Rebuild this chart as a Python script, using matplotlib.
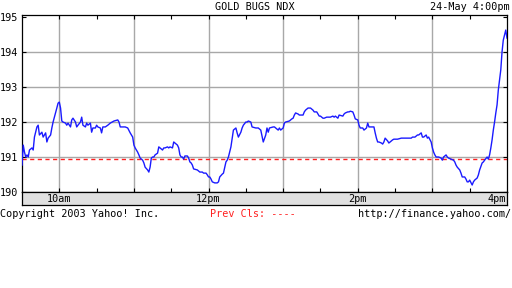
import matplotlib
matplotlib.use("Agg")
import matplotlib.pyplot as plt

# minutes after 9:30 and index value
minutes = [0, 1, 2, 3, 4, 5, 6, 8, 9, 10, 12, 13, 14, 16, 17, 19, 20, 21, 23, 24,
           25, 27, 28, 29, 30, 31, 32, 33, 35, 36, 37, 39, 40, 41, 43, 44, 45, 47, 48, 49,
           51, 52, 53, 55, 56, 57, 59, 60, 61, 63, 64, 65, 67, 69, 71, 74, 77, 78, 79, 81,
           82, 83, 85, 87, 89, 90, 91, 93, 94, 95, 97, 98, 99, 101, 102, 103, 104, 105, 106, 107,
           109, 110, 111, 113, 114, 115, 117, 118, 119, 121, 122, 123, 125, 126, 127, 128, 129, 130, 131, 133,
           134, 135, 136, 137, 138, 141, 143, 145, 146, 148, 149, 150, 151, 152, 153, 155, 157, 158, 159, 161,
           162, 164, 165, 166, 168, 169, 170, 172, 173, 174, 176, 177, 178, 180, 181, 182, 184, 185, 188, 190,
           192, 194, 196, 197, 198, 199, 202, 203, 204, 206, 207, 208, 210, 211, 212, 215, 217, 218, 219, 220,
           222, 223, 224, 226, 227, 228, 230, 231, 232, 234, 235, 237, 238, 239, 240, 242, 243, 245, 246, 248,
           250, 251, 252, 254, 255, 258, 259, 260, 262, 263, 264, 266, 267, 268, 270, 271, 272, 273, 274, 275,
           277, 278, 279, 280, 282, 283, 284, 285, 286, 287, 289, 290, 291, 292, 294, 295, 296, 298, 299, 302,
           305, 306, 308, 311, 313, 314, 316, 318, 319, 321, 322, 323, 325, 326, 327, 329, 330, 331, 332, 333,
           334, 335, 337, 338, 339, 341, 342, 343, 345, 347, 348, 349, 350, 352, 353, 354, 356, 357, 358, 359,
           360, 362, 363, 364, 366, 367, 368, 370, 371, 372, 374, 375, 376, 377, 378, 379, 380, 381, 382, 383,
           384, 385, 386, 387, 388, 389, 390]
prices = [190.77, 191.34, 191.14, 191.00, 191.06, 191.00, 191.20, 191.26, 191.20, 191.57,
          191.86, 191.91, 191.63, 191.71, 191.57, 191.69, 191.43, 191.54, 191.63, 191.83,
          192.00, 192.26, 192.40, 192.54, 192.57, 192.40, 192.03, 192.00, 191.97, 191.91,
          191.97, 191.86, 192.06, 192.11, 192.00, 191.86, 191.91, 192.00, 192.14, 191.91,
          191.86, 191.97, 191.91, 191.97, 191.71, 191.83, 191.83, 191.91, 191.86, 191.83,
          191.69, 191.86, 191.86, 191.91, 191.97, 192.03, 192.06, 192.00, 191.86, 191.86,
          191.86, 191.86, 191.83, 191.69, 191.57, 191.34, 191.26, 191.14, 191.06, 190.97,
          190.91, 190.83, 190.71, 190.63, 190.57, 190.71, 190.97, 191.00, 191.00, 191.06,
          191.11, 191.29, 191.26, 191.20, 191.26, 191.26, 191.29, 191.26, 191.29, 191.26,
          191.43, 191.40, 191.34, 191.26, 191.06, 191.00, 191.00, 190.94, 191.03, 191.03,
          190.97, 190.86, 190.83, 190.77, 190.66, 190.63, 190.57, 190.57, 190.54, 190.54,
          190.49, 190.43, 190.43, 190.37, 190.29, 190.26, 190.26, 190.29, 190.43, 190.51,
          190.54, 190.86, 190.91, 191.00, 191.29, 191.54, 191.77, 191.83, 191.69, 191.57,
          191.71, 191.83, 191.91, 192.00, 192.00, 192.03, 192.00, 191.86, 191.83, 191.83,
          191.77, 191.43, 191.63, 191.83, 191.71, 191.83, 191.86, 191.86, 191.83, 191.77,
          191.83, 191.77, 191.83, 191.97, 192.00, 192.03, 192.09, 192.11, 192.20, 192.26,
          192.23, 192.20, 192.20, 192.20, 192.29, 192.34, 192.40, 192.40, 192.40, 192.34,
          192.29, 192.29, 192.23, 192.17, 192.17, 192.11, 192.11, 192.14, 192.14, 192.14,
          192.17, 192.14, 192.17, 192.11, 192.20, 192.17, 192.23, 192.26, 192.29, 192.29,
          192.31, 192.29, 192.20, 192.09, 192.06, 191.91, 191.83, 191.83, 191.83, 191.77,
          191.83, 191.97, 191.86, 191.86, 191.86, 191.86, 191.69, 191.54, 191.43, 191.43,
          191.40, 191.37, 191.43, 191.54, 191.46, 191.40, 191.43, 191.49, 191.51, 191.51,
          191.54, 191.54, 191.54, 191.54, 191.54, 191.57, 191.57, 191.63, 191.63, 191.69,
          191.57, 191.57, 191.63, 191.54, 191.57, 191.43, 191.26, 191.14, 191.06, 191.00,
          191.00, 191.00, 190.97, 190.91, 191.00, 191.06, 191.00, 190.97, 190.94, 190.91,
          190.86, 190.77, 190.71, 190.63, 190.54, 190.43, 190.43, 190.37, 190.29, 190.29,
          190.34, 190.20, 190.29, 190.34, 190.40, 190.49, 190.63, 190.83, 190.86, 190.91,
          191.00, 190.94, 191.06, 191.26, 191.49, 191.77, 192.00, 192.26, 192.49, 192.91,
          193.20, 193.49, 194.00, 194.34, 194.49, 194.63, 194.40]

prev_close = 190.94
y_ticks = [190, 191, 192, 193, 194, 195]
y_grid = [191, 192, 193, 194]
hour_grid = [30, 90, 150, 210, 270, 330]
half_hours = [30, 60, 90, 120, 150, 180, 210, 240, 270, 300, 330, 360]
x_labels = {30: "10am", 150: "12pm", 270: "2pm"}

W, H = 512, 288
fig = plt.figure(figsize=(W / 100, H / 100), dpi=100)
font = "DejaVu Sans Mono"
fs = 7.3

# main plot area
ax = fig.add_axes([22 / W, 1 - 192 / H, 485 / W, 177 / H])
ax.set_xlim(0, 390)
ax.set_ylim(190, 195.06)

for g in y_grid:
    ax.axhline(g, color="#a8a8a8", linewidth=1.0, zorder=1)
for g in hour_grid:
    ax.axvline(g, color="#a8a8a8", linewidth=1.0, zorder=1)

ax.axhline(prev_close, color="#ff2020", linewidth=1.0, linestyle=(0, (3, 2.5)), zorder=2)
ax.plot(minutes, prices, color="#1a1aff", linewidth=1.0, zorder=3)

ax.set_xticks(half_hours)
ax.set_xticklabels([])
ax.set_yticks(y_ticks)
ax.set_yticklabels([str(v) for v in y_ticks], fontfamily=font, fontsize=fs)
ax.tick_params(axis="x", direction="in", top=True, bottom=True, length=3, width=0.8)
ax.tick_params(axis="y", direction="in", left=True, right=True, length=3, width=0.8, pad=3)
for s in ax.spines.values():
    s.set_linewidth(0.9)

# gray time band under the plot
band = fig.add_axes([22 / W, 1 - 205 / H, 485 / W, 13 / H])
band.set_facecolor("#e0e0e0")
band.set_xlim(0, 390)
band.set_ylim(0, 1)
band.set_xticks([])
band.set_yticks([])
for s in band.spines.values():
    s.set_linewidth(0.9)
for pos, lab in x_labels.items():
    band.text(pos, 0.45, lab, ha="center", va="center", fontfamily=font, fontsize=fs)
band.text(389, 0.45, "4pm", ha="right", va="center", fontfamily=font, fontsize=fs)

# header and footer text
fig.text(255 / W, 1 - 6.5 / H, "GOLD BUGS NDX", ha="center", va="center",
         fontfamily=font, fontsize=fs)
fig.text(510 / W, 1 - 6.5 / H, "24-May 4:00pm", ha="right", va="center",
         fontfamily=font, fontsize=fs)
fig.text(0, 1 - 214 / H, "Copyright 2003 Yahoo! Inc.", ha="left", va="center",
         fontfamily=font, fontsize=fs)
fig.text(210 / W, 1 - 214 / H, "Prev Cls: ----", ha="left", va="center",
         fontfamily=font, fontsize=fs, color="#ff2020")
fig.text(511 / W, 1 - 214 / H, "http://finance.yahoo.com/", ha="right", va="center",
         fontfamily=font, fontsize=fs)

fig.savefig("out.png", dpi=100)
